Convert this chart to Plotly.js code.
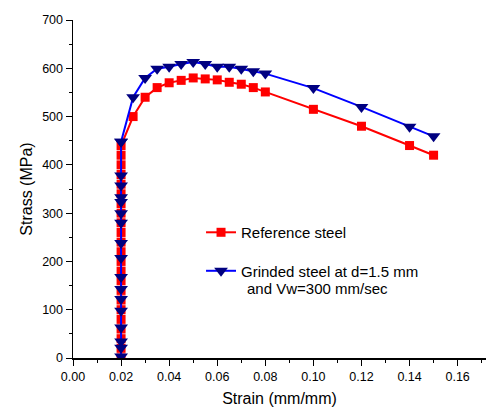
<!DOCTYPE html>
<html>
<head>
<meta charset="utf-8">
<script src="https://cdn.plot.ly/plotly-3.0.1.min.js"></script>
<style>html,body{margin:0;padding:0;background:#fff;}#chart{width:486px;height:407px;}</style>
</head>
<body>
<div id="chart"></div>
<script>
// Reference steel
const refStrain = [0.02,0.02,0.02,0.02,0.02,0.02,0.02,0.02,0.02,0.02,0.02,0.02,0.02,0.02,0.02,0.02,0.02,0.02,0.02,0.02,0.02,0.02,0.02,
  0.025,0.03,0.035,0.04,0.045,0.05,0.055,0.06,0.065,0.07,0.075,0.08,0.10,0.12,0.14,0.15];
const refStress = [0,20,40,60,80,100,120,140,160,180,200,220,240,260,280,300,320,340,360,380,400,420,440,
  500,540,560,570,575,580,578,576,571,567,560,551,515,480,440,420];
// Grinded steel
const grdStrain = [0.02,0.02,0.02,0.02,0.02,0.02,0.02,0.02,0.02,0.02,0.02,0.02,0.02,0.02,0.02,0.02,0.02,0.02,
  0.025,0.03,0.035,0.04,0.045,0.05,0.055,0.06,0.065,0.07,0.075,0.08,0.10,0.12,0.14,0.15];
const grdStress = [3,21,34,63,98,122,143,168,207,238,280,300,323,333,357,378,448,448,
  540,580,599,603,609,613,609,603,603,599,594,589,559,520,479,459];
const xTickVals = [0,0.02,0.04,0.06,0.08,0.10,0.12,0.14,0.16];
const xTickText = ["0.00","0.02","0.04","0.06","0.08","0.10","0.12","0.14","0.16"];
const yTickVals = [0,100,200,300,400,500,600,700];
const seriesNames = ["Reference steel", "Grinded steel at d=1.5 mm"];
const nameLine2 = "and Vw=300 mm/sec";

const font = "Liberation Sans, Arial, sans-serif";
const traces = [
  {x: refStrain, y: refStress, name: seriesNames[0], mode: "lines+markers", legendgroup: "a",
   line: {color: "#ff0000", width: 2}, marker: {symbol: "square", size: 9, color: "#ff0000"}},
  {x: grdStrain, y: grdStress, name: seriesNames[1], mode: "lines+markers", legendgroup: "b",
   line: {color: "#0000ff", width: 2}, marker: {symbol: "triangle-down", size: 12, color: "#000080"}}
];
const layout = {
  width: 486, height: 407,
  margin: {l: 72.7, r: 0, t: 20, b: 48.7},
  paper_bgcolor: "#fff", plot_bgcolor: "#fff",
  font: {family: font, size: 12, color: "#000"},
  showlegend: true,
  legend: {x: 0.31, y: 0.42, xanchor: "left", yanchor: "top", bgcolor: "rgba(0,0,0,0)",
    font: {family: font, size: 15, color: "#000"}, tracegroupgap: 16, itemwidth: 30},
  xaxis: {range: [0, 0.1718], tickvals: xTickVals, ticktext: xTickText, ticks: "outside", ticklen: 6,
    tickwidth: 1, tickcolor: "#000", showline: true, linecolor: "#000", linewidth: 1.5, showgrid: false, zeroline: false,
    minor: {dtick: 0.01, ticks: "outside", ticklen: 3, tickcolor: "#000", showgrid: false},
    tickfont: {family: font, size: 12.5}, fixedrange: true,
    title: {text: "Strain (mm/mm)", font: {family: font, size: 16}, standoff: 10}},
  yaxis: {range: [0, 700], tickvals: yTickVals, ticks: "outside", ticklen: 6, tickwidth: 1, tickcolor: "#000",
    showline: true, linecolor: "#000", linewidth: 1.5, showgrid: false, zeroline: false,
    minor: {dtick: 50, ticks: "outside", ticklen: 3, tickcolor: "#000", showgrid: false},
    tickfont: {family: font, size: 12.5}, fixedrange: true,
    title: {text: "Strass (MPa)", font: {family: font, size: 16}, standoff: 5}},
  annotations: [{text: nameLine2, xref: "paper", yref: "paper", x: (245 - 72.7) / 413.3, y: (358.3 - 288.5) / 338.3,
    xanchor: "left", yanchor: "middle", showarrow: false, font: {family: font, size: 15, color: "#000"}}]
};
Plotly.newPlot("chart", traces, layout, {staticPlot: true});
</script>
</body>
</html>
